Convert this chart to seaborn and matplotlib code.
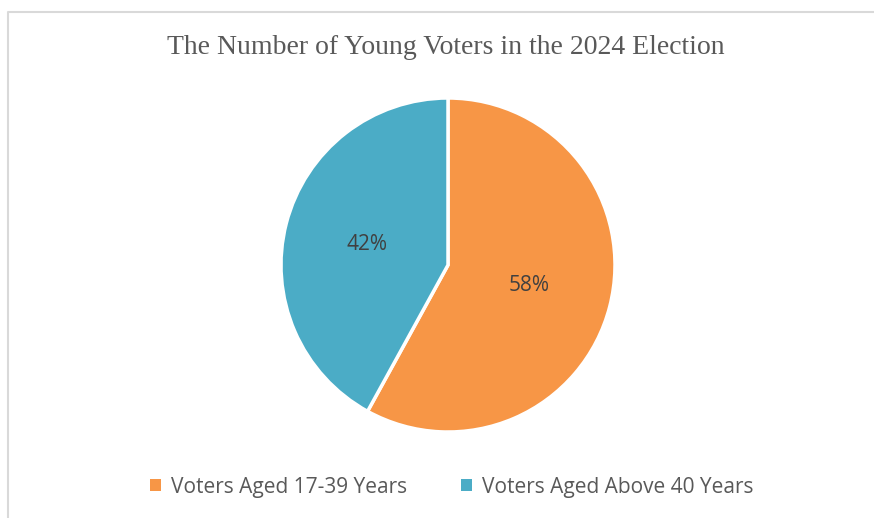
import seaborn as sns
import matplotlib.pyplot as plt
from matplotlib.lines import Line2D
from matplotlib.patches import Patch

# data
labels = ["Voters Aged 17-39 Years", "Voters Aged Above 40 Years"]
shares = [58, 42]
colors = ["#F79646", "#4BACC6"]

sns.set_theme(style="white")
plt.rcParams['font.family'] = ['Open Sans', 'DejaVu Sans']

W, H = 874, 518
fig = plt.figure(figsize=(W / 100, H / 100), dpi=100)

# pie axes: centre (448, 265), radius 167 px
cx, cy, r = 448, 265, 167
ax = fig.add_axes([(cx - r) / W, (H - cy - r) / H, 2 * r / W, 2 * r / H])
wedges, texts, autotexts = ax.pie(
    shares, colors=colors, startangle=90, counterclock=False,
    autopct='%1.0f%%', pctdistance=0.5,
    wedgeprops=dict(edgecolor='white', linewidth=2.5, clip_on=False),
    textprops=dict(color='#404040', fontsize=15),
)
ax.set_xlim(-1, 1)
ax.set_ylim(-1, 1)
ax.set_aspect('equal')
ax.axis('off')

fig.text(0.51, 1 - 47 / H, "The Number of Young Voters in the 2024 Election",
         ha='center', va='center', fontsize=20, color='#595959',
         family=['Liberation Serif', 'DejaVu Serif'])

handles = [Patch(facecolor=c, edgecolor='none') for c in colors]
fig.legend(handles, labels, loc='center', bbox_to_anchor=(0.517, 1 - 487 / H),
           ncol=2, frameon=False, fontsize=15, labelcolor='#595959',
           handlelength=0.5, handleheight=0.5, handletextpad=0.5,
           columnspacing=2.6)

# chart-area border (only left and top visible in the crop)
bx, by = 8 / W, 1 - 12 / H
fig.add_artist(Line2D([bx, bx, 1], [0, by, by], transform=fig.transFigure,
                      color='#d9d9d9', linewidth=1.5))

fig.savefig("out.png", dpi=100)
